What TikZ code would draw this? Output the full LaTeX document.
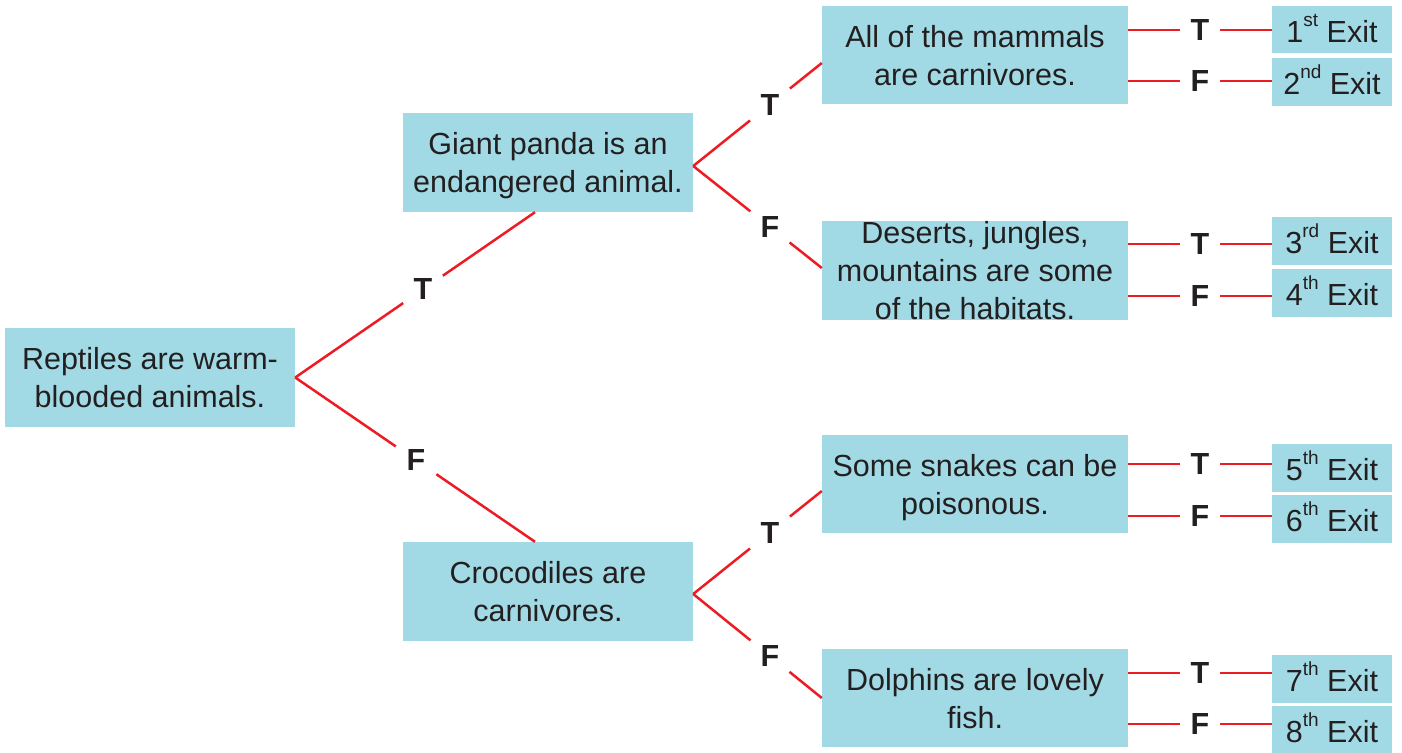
\documentclass[tikz,border=0pt]{standalone}
\usepackage{fontspec}
\setmainfont{Liberation Sans}
\usetikzlibrary{calc}
\definecolor{boxblue}{HTML}{A1DAE5}
\definecolor{linered}{HTML}{ED1C24}
\definecolor{txt}{HTML}{231F20}
\newcommand{\ordsup}[1]{\raisebox{16pt}{\fontsize{19}{19}\selectfont #1}}
\begin{document}
\begin{tikzpicture}[x=1pt,y=-1pt,
  box/.style={fill=boxblue, inner sep=0pt, align=center, text=txt,
    font=\fontsize{30.5}{38}\selectfont, text depth=0pt},
  mainbox/.style={box, minimum width=290, minimum height=99},
  rightbox/.style={box, minimum width=306, minimum height=98.5},
  exitbox/.style={box, minimum width=120, minimum height=47.5, text height=25pt},
  conn/.style={draw=linered, line width=2.5pt},
  tf/.style={circle, fill=white, inner sep=0pt, minimum size=#1, text=txt,
    font=\fontsize{30.5}{38}\selectfont\bfseries},
]
\useasboundingbox (0,0) rectangle (1402,752);

% boxes
\node[mainbox] (root) at (150,377.5) {Reptiles are warm-\\blooded animals.};
\node[mainbox] (panda) at (548,162.5) {Giant panda is an\\endangered animal.};
\node[mainbox] (croc) at (548,591.5) {Crocodiles are\\carnivores.};

\node[rightbox] (mammals) at (975,55) {All of the mammals\\are carnivores.};
\node[rightbox] (deserts) at (975,270.5) {Deserts, jungles,\\mountains are some\\of the habitats.};
\node[rightbox] (snakes) at (975,484) {Some snakes can be\\poisonous.};
\node[rightbox] (dolphins) at (975,698) {Dolphins are lovely\\fish.};

\node[exitbox] (e1) at (1332,29.75) {1\ordsup{st} Exit};
\node[exitbox] (e2) at (1332,82) {2\ordsup{nd} Exit};
\node[exitbox] (e3) at (1332,241) {3\ordsup{rd} Exit};
\node[exitbox] (e4) at (1332,292.8) {4\ordsup{th} Exit};
\node[exitbox] (e5) at (1332,467.8) {5\ordsup{th} Exit};
\node[exitbox] (e6) at (1332,518.8) {6\ordsup{th} Exit};
\node[exitbox] (e7) at (1332,678.8) {7\ordsup{th} Exit};
\node[exitbox] (e8) at (1332,729.5) {8\ordsup{th} Exit};

% root branches
\draw[conn] (root.east) -- node[tf=48, pos=0.533] {T} ($(panda.south)+(-13,0)$);
\draw[conn] (root.east) -- node[tf=49, pos=0.504] {F} ($(croc.north)+(-13,0)$);

% panda branches
\draw[conn] ($(panda.east)+(0,3.5)$) -- node[tf=51, pos=0.597] {T} ($(mammals.west)+(0,8)$);
\draw[conn] ($(panda.east)+(0,3.5)$) -- node[tf=50, pos=0.597] {F} ($(deserts.west)+(0,-2.5)$);

% croc branches
\draw[conn] ($(croc.east)+(0,2.5)$) -- node[tf=51, pos=0.597] {T} ($(snakes.west)+(0,7)$);
\draw[conn] ($(croc.east)+(0,2.5)$) -- node[tf=50, pos=0.597] {F} (dolphins.west);

% exits
\draw[conn] (mammals.east |- 0,30) -- node[tf=40] {T} (e1.west |- 0,30);
\draw[conn] (mammals.east |- 0,81) -- node[tf=40] {F} (e2.west |- 0,81);
\draw[conn] (deserts.east |- 0,244) -- node[tf=40] {T} (e3.west |- 0,244);
\draw[conn] (deserts.east |- 0,296) -- node[tf=40] {F} (e4.west |- 0,296);
\draw[conn] (snakes.east |- 0,464) -- node[tf=40] {T} (e5.west |- 0,464);
\draw[conn] (snakes.east |- 0,516) -- node[tf=40] {F} (e6.west |- 0,516);
\draw[conn] (dolphins.east |- 0,673) -- node[tf=40] {T} (e7.west |- 0,673);
\draw[conn] (dolphins.east |- 0,724) -- node[tf=40] {F} (e8.west |- 0,724);
\end{tikzpicture}
\end{document}
